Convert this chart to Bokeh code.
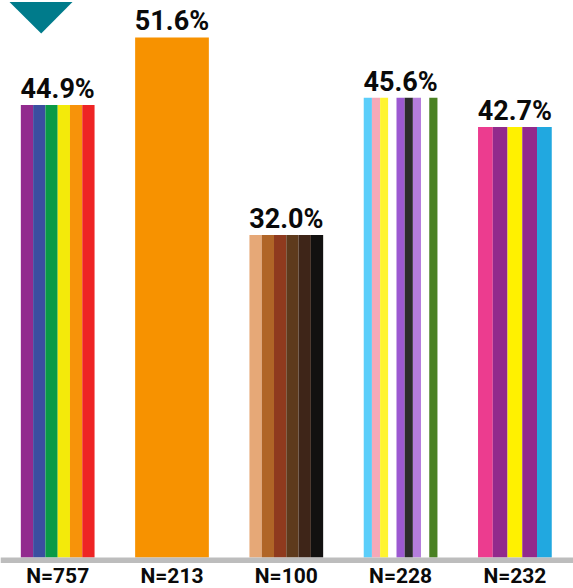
from bokeh.plotting import figure
from bokeh.models import ColumnDataSource, Range1d, BoxAnnotation
from bokeh.core.properties import value
from bokeh.embed import file_html
from bokeh.resources import INLINE

# ---- data ----
n_labels = ["N=757", "N=213", "N=100", "N=228", "N=232"]
percents = [44.9, 51.6, 32.0, 45.6, 42.7]

# ---- styles: stripe palettes for each bar ----
stripes_1 = ["#922b8e", "#3b4ea0", "#0a9a46", "#f3ea0a", "#f7930a", "#ee2424"]
stripes_2 = ["#f79200"]
stripes_3 = ["#e6a877", "#b06527", "#8f3a1e", "#5e3a1c", "#3e2518", "#121110"]
stripes_4 = ["#5bcefa", "#f5a9b8", "#fff430", "#ffffff", "#9c59d1",
             "#2c2c2c", "#b57edc", "#ffffff", "#4a8123"]
stripes_5 = ["#ec3c8f", "#922a8c", "#fff100", "#922a8c", "#21a8e0"]
palettes = [stripes_1, stripes_2, stripes_3, stripes_4, stripes_5]

BAR_W = 0.645

p = figure(width=573, height=588, output_backend="svg", toolbar_location=None,
           x_range=Range1d(-0.5004, 4.5127), y_range=Range1d(-3.075, 55.26),
           min_border=0, outline_line_color=None)
p.axis.visible = False
p.grid.visible = False
p.background_fill_color = "white"
p.border_fill_color = "white"

left, right, top, color = [], [], [], []
for i, (v, pal) in enumerate(zip(percents, palettes)):
    n = len(pal)
    x0 = i - BAR_W / 2
    sw = BAR_W / n
    for j, c in enumerate(pal):
        left.append(x0 + j * sw)
        right.append(x0 + (j + 1) * sw)
        top.append(v)
        color.append(c)

src = ColumnDataSource(dict(left=left, right=right, top=top, bottom=[0] * len(top), color=color))
p.quad(left="left", right="right", top="top", bottom="bottom", fill_color="color",
       line_color=None, source=src)

# baseline
p.add_layout(BoxAnnotation(bottom=-0.55, top=0, fill_color="#bdbdbd", fill_alpha=1,
                           line_color=None, level="overlay"))

# teal marker triangle
p.patch(x=[-0.4218, 0.1295, -0.1444], y=[55.1, 55.1, 51.98], fill_color="#007b8b",
        line_color=None)

lab = ColumnDataSource(dict(x=list(range(len(percents))), y=percents,
                            t=[f"{v:.1f}%" for v in percents],
                            n=n_labels, z=[0] * len(percents)))
p.text(x="x", y="y", text="t", source=lab, text_align="center", text_baseline="alphabetic",
       y_offset=-16, text_font=value("Roboto"), text_font_style="bold",
       text_font_size="27px", text_color="#0a0a0a")
p.text(x="x", y="z", text="n", source=lab, text_align="center", text_baseline="alphabetic",
       y_offset=18, text_font=value("Roboto"), text_font_style="bold",
       text_font_size="21px", text_color="#0a0a0a")

open("out.html", "w").write(file_html(p, INLINE))
